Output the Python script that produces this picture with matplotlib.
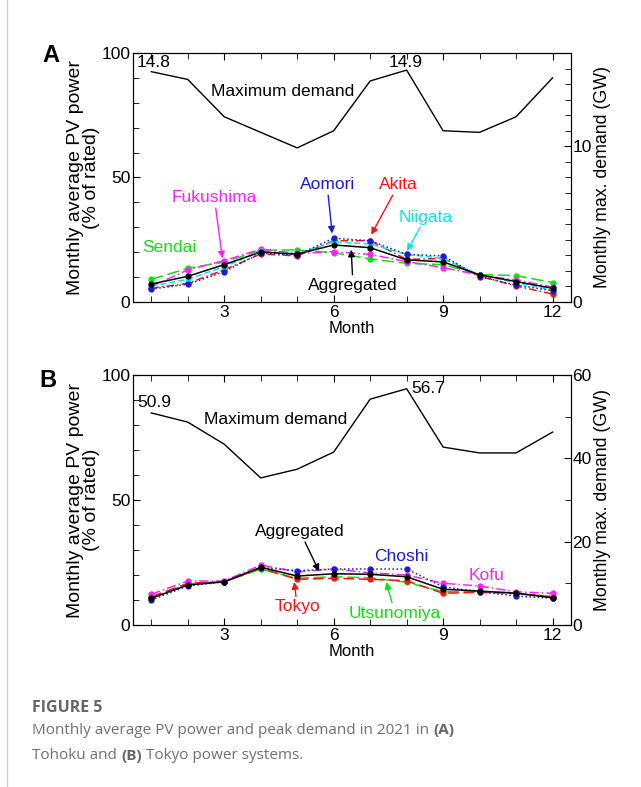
import matplotlib.pyplot as plt
from matplotlib.lines import Line2D
import numpy as np

plt.rcParams['font.family'] = ['Liberation Sans', 'DejaVu Sans']

months = np.arange(1, 13)

# panel A - Tohoku
demandA = [14.8, 14.3, 11.9, 10.9, 9.9, 11.0, 14.2, 14.9, 11.0, 10.9, 11.9, 14.4]
aggA = [7.2, 10.3, 15.0, 20.1, 19.2, 22.9, 21.8, 16.9, 16.1, 10.9, 8.2, 5.5]
aomori = [5.2, 7.1, 12.2, 19.6, 18.9, 25.6, 24.6, 19.1, 18.5, 10.2, 6.8, 4.5]
akita = [5.5, 7.5, 12.9, 19.3, 18.5, 24.6, 24.6, 17.1, 17.5, 10.4, 6.4, 3.2]
niigata = [6.3, 9.1, 14.2, 20.3, 19.3, 24.2, 23.3, 19.1, 17.5, 10.8, 7.8, 4.8]
fukushima = [6.2, 12.9, 16.6, 21.2, 19.5, 20.2, 19.1, 16.2, 13.8, 10.8, 8.8, 6.0]
sendai = [9.1, 13.5, 16.0, 20.8, 20.9, 19.8, 17.3, 15.5, 15.0, 11.0, 10.6, 7.8]

# panel B - Tokyo
demandB = [50.9, 48.7, 43.4, 35.3, 37.4, 41.5, 54.2, 56.7, 42.7, 41.3, 41.3, 46.3]
aggB = [10.7, 16.0, 17.3, 23.1, 19.6, 20.5, 20.3, 19.3, 14.3, 13.6, 12.7, 10.9]
choshi = [10.0, 15.6, 17.3, 23.0, 21.7, 22.4, 22.4, 22.4, 15.3, 13.3, 11.6, 10.7]
kofu = [12.3, 17.6, 17.6, 24.0, 21.3, 22.4, 20.9, 20.0, 16.7, 15.6, 13.3, 12.7]
tokyo = [11.3, 16.7, 17.3, 22.7, 18.3, 18.7, 18.3, 17.7, 12.7, 13.1, 12.7, 11.3]
utsunomiya = [11.0, 16.4, 17.3, 22.3, 18.7, 19.3, 18.9, 17.1, 13.3, 13.3, 12.9, 11.3]

BLUE = '#1a1adc'
RED = '#ff1010'
CYAN = '#00e8f0'
MAG = '#ff20ff'
GREEN = '#10e010'

fs = 12.5

fig = plt.figure(figsize=(6.41, 7.87), dpi=100)


def setup(ax, ax2, rmax, rmajor, rminor):
    ax.set_xlim(0.5, 12.5)
    ax.set_ylim(0, 100)
    ax.set_xticks([3, 6, 9, 12])
    ax.set_xticks(months, minor=True)
    ax.set_yticks([0, 50, 100])
    ax.set_yticks(np.arange(0, 101, 10), minor=True)
    ax.tick_params(which='both', direction='in', top=True, labelsize=fs, pad=2)
    ax.tick_params(which='major', length=5)
    ax.tick_params(which='minor', length=4)
    ax.set_xlabel('Month', fontsize=12, labelpad=1)
    ax.set_ylabel('Monthly average PV power\n(% of rated)', fontsize=14,
                  labelpad=1, linespacing=0.9)
    ax2.set_ylim(0, rmax)
    ax2.set_yticks(rmajor)
    ax2.set_yticks(rminor, minor=True)
    ax2.tick_params(which='both', direction='in', labelsize=fs, pad=1)
    ax2.tick_params(which='major', length=5)
    ax2.tick_params(which='minor', length=4)
    ax2.set_ylabel('Monthly max. demand (GW)', fontsize=12.8, labelpad=2)


def series(ax, data, col, ls, z=2):
    ax.plot(months, data, color=col, linestyle=ls, lw=1.1, marker='o',
            markersize=3.5, zorder=z)


def note(ax, txt, col, xy, xytext):
    ax.annotate(txt, xy=xy, xytext=xytext, color=col, fontsize=fs,
                ha='center', va='center',
                arrowprops=dict(arrowstyle='-|>', color=col, lw=1,
                                mutation_scale=10, shrinkA=0, shrinkB=0))


# ---- panel A ----
axA = fig.add_axes([0.2075, 0.6163, 0.683, 0.3164])
axA2 = axA.twinx()
setup(axA, axA2, 16, [0, 10], np.arange(0, 17, 1))
axA2.plot(months, demandA, color='black', lw=1)
series(axA, sendai, GREEN, (0, (8, 3)))
series(axA, fukushima, MAG, (0, (6, 2, 1, 2)))
series(axA, akita, RED, (0, (5, 2, 1, 2)))
series(axA, niigata, CYAN, (0, (4, 2)))
series(axA, aomori, BLUE, ':')
series(axA, aggA, 'black', '-', 3)
axA.set_zorder(axA2.get_zorder() + 1)
axA.patch.set_visible(False)

axA.text(0.6, 96, '14.8', fontsize=fs, va='center', ha='left')
axA.text(7.98, 96, '14.9', fontsize=fs, va='center', ha='center')
axA.text(4.6, 84.5, 'Maximum demand', fontsize=fs, va='center', ha='center')
axA.text(1.5, 21.7, 'Sendai', color=GREEN, fontsize=fs, ha='center', va='center')
note(axA, 'Fukushima', MAG, (2.95, 17.5), (2.73, 41.8))
note(axA, 'Aomori', BLUE, (5.96, 27.5), (5.82, 47))
note(axA, 'Akita', RED, (7.03, 27.0), (7.77, 47))
note(axA, 'Niigata', CYAN, (8.01, 20.5), (8.53, 34.1))
note(axA, 'Aggregated', 'black', (6.48, 21.0), (6.53, 6.8))
fig.text(0.066, 0.930, 'A', fontsize=17, fontweight='bold', ha='left', va='center')

# ---- panel B ----
axB = fig.add_axes([0.2075, 0.2058, 0.683, 0.3177])
axB2 = axB.twinx()
setup(axB, axB2, 60, [0, 20, 40, 60], np.arange(0, 61, 10))
axB2.plot(months, demandB, color='black', lw=1)
series(axB, utsunomiya, GREEN, (0, (8, 3)))
series(axB, tokyo, RED, (0, (7, 3)))
series(axB, kofu, MAG, (0, (6, 2, 1, 2)))
series(axB, choshi, BLUE, ':')
series(axB, aggB, 'black', '-', 3)
axB.set_zorder(axB2.get_zorder() + 1)
axB.patch.set_visible(False)

axB.text(0.62, 89.2, '50.9', fontsize=fs, va='center', ha='left')
axB.text(8.12, 94.8, '56.7', fontsize=fs, va='center', ha='left')
axB.text(4.42, 82.4, 'Maximum demand', fontsize=fs, va='center', ha='center')
axB.text(7.85, 27.3, 'Choshi', color=BLUE, fontsize=fs, ha='center', va='center')
axB.text(10.18, 20.0, 'Kofu', color=MAG, fontsize=fs, ha='center', va='center')
note(axB, 'Aggregated', 'black', (5.6, 21.5), (5.08, 37.3))
note(axB, 'Tokyo', RED, (4.92, 17.2), (5.0, 7.3))
note(axB, 'Utsunomiya', GREEN, (7.44, 17.2), (7.68, 4.8))
fig.text(0.062, 0.516, 'B', fontsize=17, fontweight='bold', ha='left', va='center')

# caption
cap = ['Open Sans', 'DejaVu Sans']
fig.add_artist(Line2D([0.011, 0.011], [0.0, 1.0], color='#d0d0d0', lw=1))
fig.text(0.05, 0.100, 'FIGURE 5', fontsize=11.5, fontweight='bold', color='#666666',
         family=cap, va='center')
fig.text(0.05, 0.072, 'Monthly average PV power and peak demand in 2021 in ',
         fontsize=11, color='#707070', family=cap, va='center')
fig.text(0.05, 0.040, 'Tohoku and ', fontsize=11, color='#707070',
         family=cap, va='center')

r = fig.canvas.get_renderer()
t1 = fig.texts[-2]
bb = t1.get_window_extent(renderer=r)
fig.text(bb.x1 / fig.bbox.width, 0.072, '(A)', fontsize=11, fontweight='bold',
         color='#666666', family=cap, va='center')
t2 = fig.texts[-2]
bb = t2.get_window_extent(renderer=r)
t3 = fig.text(bb.x1 / fig.bbox.width, 0.040, '(B)', fontsize=11, fontweight='bold',
              color='#666666', family=cap, va='center')
bb = t3.get_window_extent(renderer=r)
fig.text(bb.x1 / fig.bbox.width, 0.040, ' Tokyo power systems.', fontsize=11,
         color='#707070', family=cap, va='center')

fig.savefig('out.png', dpi=100)
